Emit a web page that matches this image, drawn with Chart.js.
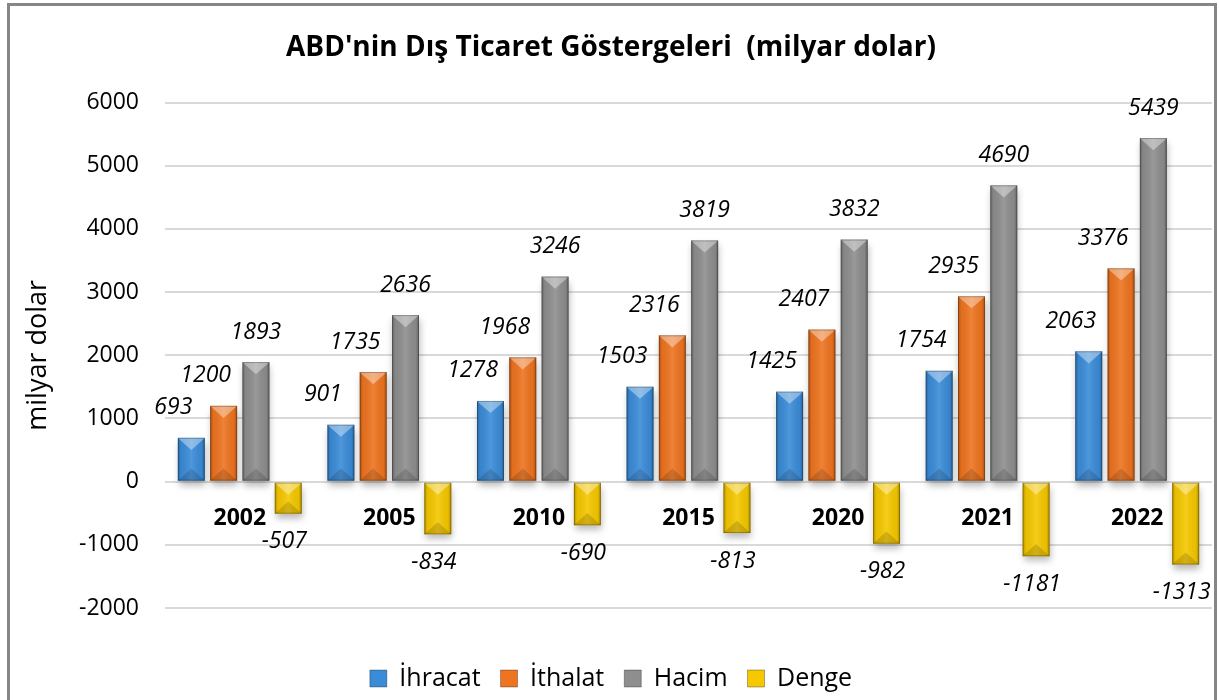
<!DOCTYPE html>
<html><head><meta charset="utf-8">
<script src="https://cdn.jsdelivr.net/npm/chart.js@4/dist/chart.umd.min.js"></script>
<style>
html,body{margin:0;padding:0;background:#fff;overflow:hidden;}
#wrap{position:relative;width:1219px;height:700px;}
#frame{position:absolute;left:7px;top:3px;width:1210px;height:720px;border:3px solid #868686;box-sizing:border-box;pointer-events:none;}
canvas{display:block;}
</style></head><body>
<div id="wrap"><canvas id="c" width="1219" height="700"></canvas><div id="frame"></div></div>
<script>
// ---- data ----
const years = ['2002','2005','2010','2015','2020','2021','2022'];
const ihracat = [693, 901, 1278, 1503, 1425, 1754, 2063];
const ithalat = [1200, 1735, 1968, 2316, 2407, 2935, 3376];
const hacim   = [1893, 2636, 3246, 3819, 3832, 4690, 5439];
const denge   = [-507, -834, -690, -813, -982, -1181, -1313];
const seriesNames = ['İhracat', 'İthalat', 'Hacim', 'Denge'];
const yTicks = [-2000, -1000, 0, 1000, 2000, 3000, 4000, 5000, 6000];
const titleText = "ABD'nin Dış Ticaret Göstergeleri  (milyar dolar)";
const yTitle = 'milyar dolar';

// ---- styles ----
const FONT = '"Open Sans", sans-serif';
const colors = ['#3B8CD8', '#EE7420', '#8E8E8E', '#F5C800'];
const labelDx = [-18, -18, 0, -4];

const seriesData = [ihracat, ithalat, hacim, denge];

const bevelPlugin = {
  id: 'bevel',
  beforeDatasetsDraw(chart) {
    const ctx = chart.ctx;
    ctx.save();
    ctx.shadowColor = 'rgba(0,0,0,0.28)';
    ctx.shadowBlur = 7;
    ctx.shadowOffsetX = 1;
    ctx.shadowOffsetY = 5;
  },
  afterDatasetsDraw(chart) {
    const ctx = chart.ctx;
    ctx.restore();
    ctx.save();
    chart.data.datasets.forEach((ds, i) => {
      const meta = chart.getDatasetMeta(i);
      meta.data.forEach(bar => {
        const w = bar.width;
        const l = bar.x - w / 2, r = bar.x + w / 2;
        const t = Math.min(bar.y, bar.base), b = Math.max(bar.y, bar.base);
        const h = b - t;
        const g = ctx.createLinearGradient(l, 0, r, 0);
        g.addColorStop(0, 'rgba(0,0,0,0.28)');
        g.addColorStop(0.12, 'rgba(0,0,0,0.05)');
        g.addColorStop(0.5, 'rgba(255,255,255,0.10)');
        g.addColorStop(0.88, 'rgba(0,0,0,0.05)');
        g.addColorStop(1, 'rgba(0,0,0,0.30)');
        ctx.fillStyle = g;
        ctx.fillRect(l, t, w, h);
        const f = Math.min(w * 0.45, h / 2);
        ctx.fillStyle = 'rgba(255,255,255,0.38)';
        ctx.beginPath();
        ctx.moveTo(l, t); ctx.lineTo(r, t); ctx.lineTo(r - 2, t + 2); ctx.lineTo(bar.x, t + f); ctx.lineTo(l + 2, t + 2);
        ctx.closePath(); ctx.fill();
        ctx.fillStyle = 'rgba(0,0,0,0.14)';
        ctx.beginPath();
        ctx.moveTo(l, b); ctx.lineTo(r, b); ctx.lineTo(r - 2, b - 2); ctx.lineTo(bar.x, b - f); ctx.lineTo(l + 2, b - 2);
        ctx.closePath(); ctx.fill();
        ctx.strokeStyle = 'rgba(0,0,0,0.25)';
        ctx.lineWidth = 1;
        ctx.strokeRect(l + 0.5, t + 0.5, w - 1, h - 1);
      });
    });
    ctx.font = 'italic 23px ' + FONT;
    ctx.fillStyle = '#000';
    ctx.textAlign = 'center';
    ctx.textBaseline = 'middle';
    chart.data.datasets.forEach((ds, i) => {
      const meta = chart.getDatasetMeta(i);
      meta.data.forEach((bar, j) => {
        const v = ds.data[j];
        const y = v >= 0 ? bar.y - 30 : bar.y + 28;
        ctx.fillText(String(v), bar.x + labelDx[i], y);
      });
    });
    ctx.restore();
  }
};

new Chart(document.getElementById('c'), {
  type: 'bar',
  data: {
    labels: years,
    datasets: seriesNames.map((n, i) => ({
      label: n,
      data: seriesData[i],
      backgroundColor: colors[i],
      borderWidth: 0,
      categoryPercentage: 0.864,
      barPercentage: 0.835
    }))
  },
  options: {
    responsive: false,
    devicePixelRatio: 1,
    animation: false,
    layout: { padding: { left: 10, right: 7, top: 21, bottom: -1 } },
    plugins: {
      title: {
        display: true, text: titleText, color: '#000',
        font: { family: FONT, size: 28, weight: 'bold' },
        padding: { top: 10, bottom: 38 }
      },
      legend: {
        position: 'bottom',
        title: { display: true, text: '', font: { size: 10 }, padding: { top: 26, bottom: 0 } },
        labels: {
          color: '#000', font: { family: FONT, size: 25 },
          boxWidth: 17, boxHeight: 17, padding: 20,
          generateLabels(chart) {
            return chart.data.datasets.map((ds, i) => ({
              text: ds.label, fillStyle: colors[i], strokeStyle: 'rgba(0,0,0,0.3)', lineWidth: 1,
              fontColor: '#000', datasetIndex: i, hidden: false
            }));
          }
        }
      },
      tooltip: { enabled: false }
    },
    scales: {
      x: {
        position: { y: 0 },
        grid: { display: false, drawTicks: false },
        border: { display: false },
        ticks: { color: '#000', font: { family: FONT, size: 23, weight: 'bold' }, padding: 23, maxRotation: 0 }
      },
      y: {
        min: -2000, max: 6000,
        afterBuildTicks(scale) { scale.ticks = yTicks.map(v => ({ value: v })); },
        afterFit(scale) { scale.width = 155; },
        grid: { color: '#d9d9d9', lineWidth: 2, drawTicks: false },
        border: { display: false },
        ticks: { color: '#000', font: { family: FONT, size: 23 }, padding: 26, callback: v => String(v) },
        title: { display: true, text: yTitle, color: '#000', font: { family: FONT, size: 27 }, padding: { top: 12, bottom: 10 } }
      }
    }
  },
  plugins: [bevelPlugin]
});
</script>
</body></html>
